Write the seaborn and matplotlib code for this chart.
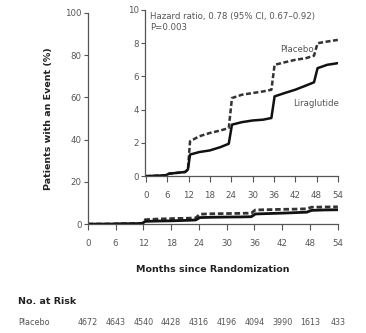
import matplotlib
matplotlib.use("Agg")
import matplotlib.pyplot as plt
import matplotlib.transforms as mtransforms
import seaborn as sns
import pandas as pd

months = [0, 5.5, 6.5, 11, 11.8, 12.4, 15, 18, 21, 23.3, 24.2, 27, 30, 33,
          35.3, 36.2, 39, 42, 45, 47.3, 48.3, 51, 54]
placebo = [0, 0.05, 0.15, 0.25, 0.4, 2.1, 2.4, 2.6, 2.75, 2.9, 4.7, 4.9, 5.0,
           5.1, 5.2, 6.7, 6.85, 7.0, 7.1, 7.25, 8.0, 8.1, 8.2]
liraglutide = [0, 0.05, 0.15, 0.25, 0.4, 1.3, 1.45, 1.55, 1.75, 1.95, 3.1,
               3.25, 3.35, 3.4, 3.5, 4.8, 5.0, 5.2, 5.45, 5.65, 6.5, 6.7, 6.8]

risk_months = [0, 6, 12, 18, 24, 30, 36, 42, 48, 54]
risk_placebo = [4672, 4643, 4540, 4428, 4316, 4196, 4094, 3990, 1613, 433]

sns.set_style("ticks")
plt.rcParams['font.family'] = ['DejaVu Sans']

df = pd.DataFrame({'month': months, 'Placebo': placebo, 'Liraglutide': liraglutide})

fig = plt.figure(figsize=(3.66, 3.33), dpi=100)
ink = '#333333'
gray = '#555555'


def style_axes(ax):
    sns.despine(ax=ax)
    for s in ['left', 'bottom']:
        ax.spines[s].set_color(gray)
        ax.spines[s].set_linewidth(0.9)
    ax.tick_params(colors=gray, labelcolor=gray, width=0.8, labelsize=6.2)
    ax.tick_params(axis='x', length=4.5, pad=6.5)
    ax.tick_params(axis='y', length=3, pad=1.5)


def draw_curves(ax, lw):
    sns.lineplot(data=df, x='month', y='Placebo', ax=ax, color=ink,
                 linewidth=lw, linestyle=(0, (2, 1)))
    sns.lineplot(data=df, x='month', y='Liraglutide', ax=ax, color='#111111',
                 linewidth=lw)


# main axes
ax = fig.add_axes([0.240, 0.327, 0.683, 0.634])
draw_curves(ax, 2.0)
ax.set_xlim(0, 54)
ax.set_ylim(0, 100)
ax.set_xticks(risk_months)
ax.set_yticks([0, 20, 40, 60, 80, 100])
style_axes(ax)
ax.set_xlabel('Months since Randomization', fontsize=6.8, fontweight='bold',
              color='#222222', labelpad=12)
ax.set_ylabel('Patients with an Event (%)', fontsize=6.8, fontweight='bold',
              color='#222222', labelpad=9)

# inset
axi = fig.add_axes([0.396, 0.471, 0.527, 0.499])
draw_curves(axi, 1.8)
axi.set_xlim(-0.3, 54)
axi.set_ylim(0, 10)
axi.set_xticks(risk_months)
axi.set_yticks([0, 2, 4, 6, 8, 10])
style_axes(axi)
axi.set_xlabel('')
axi.set_ylabel('')
axi.patch.set_alpha(0)
axi.text(1.2, 9.9, 'Hazard ratio, 0.78 (95% CI, 0.67\u20130.92)\nP=0.003',
         fontsize=6.2, color=gray, va='top', ha='left', linespacing=1.3)
axi.text(42.4, 7.5, 'Placebo', fontsize=6.2, color=gray, ha='center')
axi.text(48, 4.2, 'Liraglutide', fontsize=6.2, color=gray, ha='center')

# risk table
fig.text(0.049, 0.095, 'No. at Risk', fontsize=6.8, fontweight='bold',
         color='#222222', va='center')
fig.text(0.049, 0.033, 'Placebo', fontsize=5.8, color=gray, va='center')
trans = mtransforms.blended_transform_factory(ax.transData, fig.transFigure)
for m, n in zip(risk_months, risk_placebo):
    ax.text(m, 0.033, str(n), transform=trans, fontsize=5.8, color=gray,
            ha='center', va='center')

fig.savefig('out.png', dpi=100)
